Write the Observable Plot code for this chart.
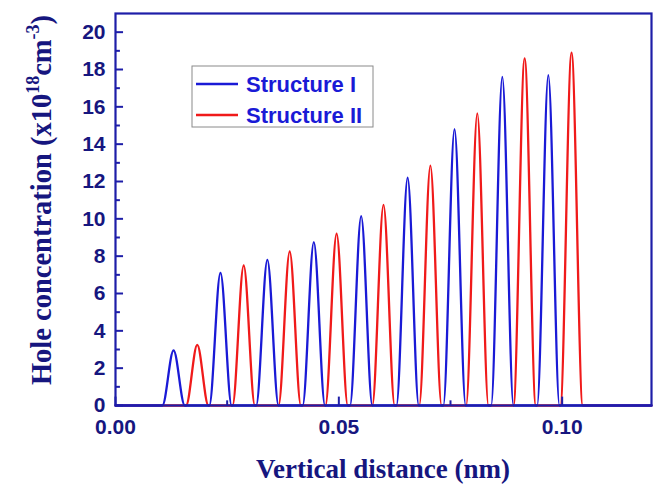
<!DOCTYPE html>
<html>
<head>
<meta charset="utf-8">
<script src="https://cdn.jsdelivr.net/npm/d3@7"></script>
<script src="https://cdn.jsdelivr.net/npm/@observablehq/plot@0.6"></script>
<style>
  body { margin: 0; background: #fff; }
  #chart svg { display: block; }
</style>
</head>
<body>
<div id="chart"></div>
<script>
// ---- data ----
const seriesNames = ["Structure I", "Structure II"];
const blueCenters = [0.0130, 0.0235, 0.0340, 0.0444, 0.0550, 0.0654, 0.0759, 0.0866, 0.0969];
const blueHeights = [2.95, 7.1, 7.8, 8.75, 10.15, 12.2, 14.8, 17.6, 17.7];
const redCenters  = [0.0183, 0.0287, 0.0390, 0.0495, 0.0600, 0.0705, 0.0810, 0.0916, 0.1021];
const redHeights  = [3.25, 7.5, 8.25, 9.2, 10.75, 12.85, 15.65, 18.6, 18.9];
const peakHalfWidth = 0.0025;
const xDomain = [0, 0.12];
const yDomain = [0, 21];
const xMajor = [0.00, 0.05, 0.10];
const xMinor = [0.025, 0.075];
const yMajor = [0, 2, 4, 6, 8, 10, 12, 14, 16, 18, 20];
const yMinor = [1, 3, 5, 7, 9, 11, 13, 15, 17, 19];

const BLUE = "#1a1ad6";
const RED = "#f01a1a";
const NAVY = "#16167f";
const FRAME = "#1e1ea8";

function profile(centers, heights) {
  const pts = [{x: xDomain[0], y: 0}];
  centers.forEach((c, i) => {
    pts.push({x: c - peakHalfWidth, y: 0});
    pts.push({x: c, y: heights[i]});
    pts.push({x: c + peakHalfWidth, y: 0});
  });
  pts.push({x: xDomain[1], y: 0});
  return pts;
}
const bluePts = profile(blueCenters, blueHeights);
const redPts = profile(redCenters, redHeights);

const chart = Plot.plot({
  width: 657,
  height: 490,
  marginLeft: 115,
  marginRight: 6,
  marginTop: 13,
  marginBottom: 85,
  style: {fontFamily: "'Liberation Sans', Arial, sans-serif", background: "#fff"},
  x: {domain: xDomain},
  y: {domain: yDomain},
  marks: [
    Plot.line(redPts, {x: "x", y: "y", stroke: RED, strokeWidth: 2.3, curve: "monotone-x"}),
    Plot.line(bluePts, {x: "x", y: "y", stroke: BLUE, strokeWidth: 2.3, curve: "monotone-x"}),
    Plot.ruleX(xMajor, {x: d => d, y1: 0, y2: 0.45, stroke: FRAME, strokeWidth: 2}),
    Plot.ruleX(xMinor, {x: d => d, y1: 0, y2: 0.25, stroke: FRAME, strokeWidth: 2}),
    Plot.ruleY(yMajor, {y: d => d, x1: 0, x2: 0.0018, stroke: FRAME, strokeWidth: 2}),
    Plot.ruleY(yMinor, {y: d => d, x1: 0, x2: 0.0011, stroke: FRAME, strokeWidth: 2}),
    Plot.frame({stroke: FRAME, strokeWidth: 2.2}),
    Plot.axisX(xMajor, {tickSize: 0, tickPadding: 14, tickFormat: d3.format(".2f"),
      fontSize: 21, fontWeight: "bold", fill: NAVY, label: null}),
    Plot.axisY(yMajor, {tickSize: 0, tickPadding: 10, tickFormat: d3.format("d"),
      fontSize: 21, fontWeight: "bold", fill: NAVY, label: null})
  ]
});

document.getElementById("chart").appendChild(chart);

// ---- axis titles and legend ----
const svg = d3.select(chart);
const serif = "'Liberation Serif', 'Times New Roman', serif";

svg.append("text")
  .attr("x", 383).attr("y", 478)
  .attr("text-anchor", "middle")
  .attr("font-family", serif).attr("font-weight", "bold")
  .attr("font-size", 27).attr("fill", NAVY)
  .text("Vertical distance (nm)");

const yt = svg.append("text")
  .attr("transform", "translate(51,200) rotate(-90)")
  .attr("text-anchor", "middle")
  .attr("font-family", serif).attr("font-weight", "bold")
  .attr("font-size", 28.5).attr("fill", NAVY);
yt.append("tspan").text("Hole concentration (x10");
yt.append("tspan").attr("dy", -12).attr("font-size", 18).text("18");
yt.append("tspan").attr("dy", 12).text("cm");
yt.append("tspan").attr("dy", -12).attr("font-size", 18).text("-3");
yt.append("tspan").attr("dy", 12).text(")");

const lg = svg.append("g");
lg.append("rect").attr("x", 192).attr("y", 66).attr("width", 181).attr("height", 61)
  .attr("fill", "#fff").attr("stroke", "#8a8a8a").attr("stroke-width", 1);
const legendColors = [BLUE, RED];
const legendY = [84, 115];
seriesNames.forEach((name, i) => {
  lg.append("line").attr("x1", 196).attr("x2", 238)
    .attr("y1", legendY[i]).attr("y2", legendY[i])
    .attr("stroke", legendColors[i]).attr("stroke-width", 2.3);
  lg.append("text").attr("x", 246).attr("y", legendY[i])
    .attr("dy", "0.36em")
    .attr("text-anchor", "start")
    .attr("font-family", "'Liberation Sans', Arial, sans-serif")
    .attr("font-weight", "bold").attr("font-size", 22)
    .attr("fill", BLUE).text(name);
});
</script>
</body>
</html>
